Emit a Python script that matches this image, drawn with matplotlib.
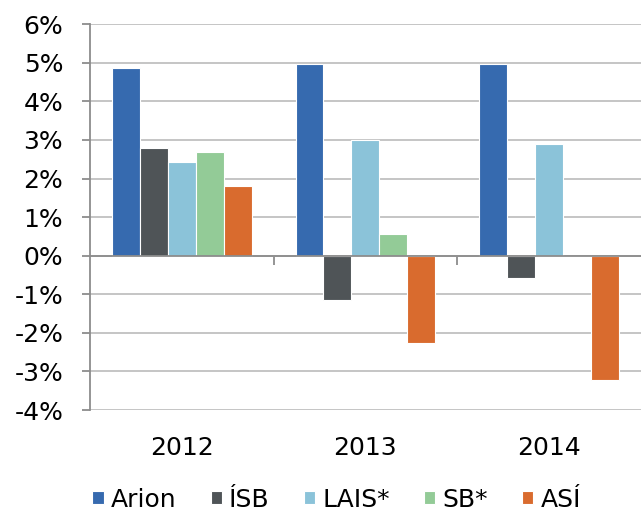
import numpy as np
import matplotlib.pyplot as plt
from matplotlib.ticker import FuncFormatter

# data
years = ['2012', '2013', '2014']
series = ['Arion', 'ÍSB', 'LAIS*', 'SB*', 'ASÍ']
arion = [4.87, 4.97, 4.98]
isb = [2.78, -1.15, -0.58]
lais = [2.44, 2.99, 2.90]
sb = [2.69, 0.57, 0.0]
asi = [1.81, -2.26, -3.23]
colors = ['#366AAF', '#4F5457', '#8BC3D9', '#93CB97', '#D96B2E']

plt.rcParams['font.family'] = ['DejaVu Sans']
fs = 18

fig = plt.figure(figsize=(6.41, 5.14), dpi=100)
ax = fig.add_axes([0.1404, 0.2023, 0.859, 0.7507])

x = np.arange(len(years))
slot = 0.152
for i, (name, vals) in enumerate(zip(series, [arion, isb, lais, sb, asi])):
    ax.bar(x + (i - 2) * slot, vals, width=slot, color=colors[i],
           edgecolor='white', linewidth=0.8, label=name, zorder=3)

ax.set_xlim(-0.5, 2.5)
ax.set_ylim(-4, 6)
ax.set_yticks(np.arange(-4, 7, 1))
ax.yaxis.set_major_formatter(FuncFormatter(lambda v, p: f'{v:.0f}%'))
ax.grid(axis='y', color='#C0C0C0', linewidth=1.3, zorder=0)
ax.axhline(0, color='#8C8C8C', linewidth=1.3, zorder=4)

for s in ['top', 'right', 'bottom']:
    ax.spines[s].set_visible(False)
ax.spines['left'].set_color('#8C8C8C')
ax.spines['left'].set_linewidth(1.3)
ax.tick_params(axis='y', length=5.8, width=1.3, color='#8C8C8C', labelsize=fs, pad=13.5)
ax.set_xticks(x)
ax.set_xticklabels(years)
ax.tick_params(axis='x', length=0, labelsize=fs, pad=19)

# category boundary ticks on the zero line
sec = ax.secondary_xaxis(0.4)
sec.set_xticks(x[:-1] + 0.5)
sec.set_xticklabels([])
sec.tick_params(length=6.5, width=1.3, color='#8C8C8C')
sec.spines['bottom'].set_visible(False)

ax.legend(loc='center', bbox_to_anchor=(0.448, -0.232), ncol=5, frameon=False,
          fontsize=fs, handlelength=0.45, handleheight=0.45, handletextpad=0.3,
          columnspacing=1.35, borderpad=0)

fig.savefig('out.png', dpi=100)
